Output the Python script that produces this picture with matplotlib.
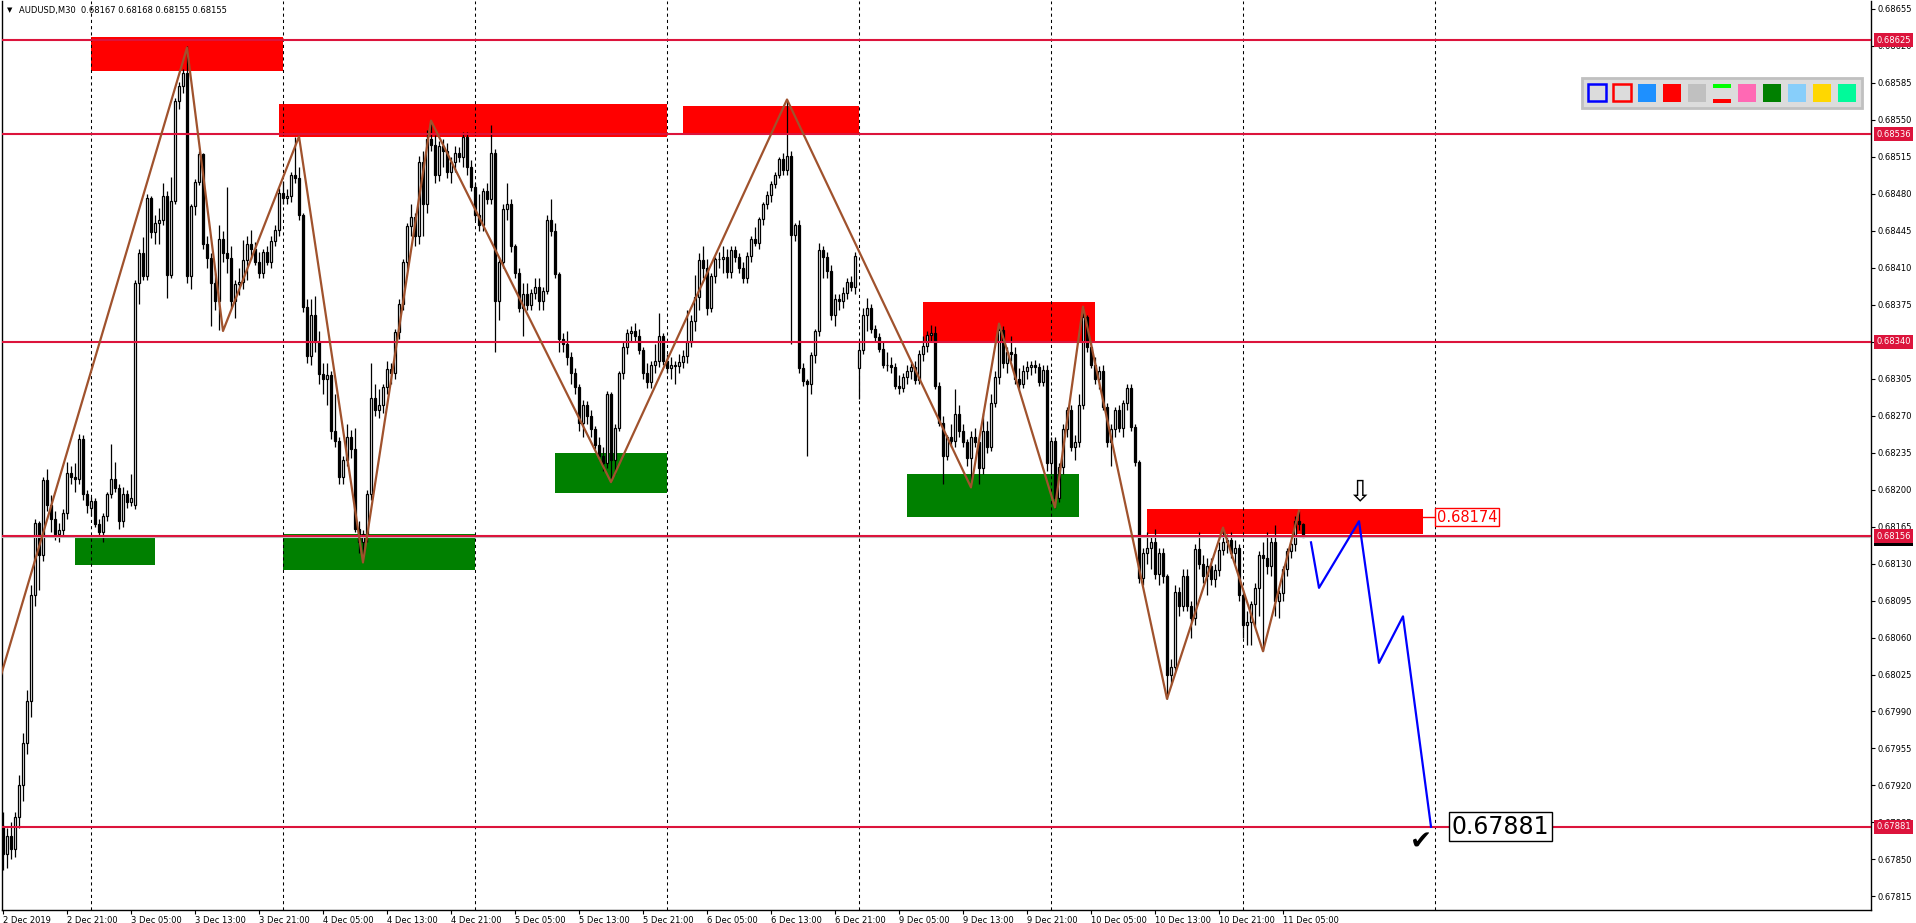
import numpy as np
import matplotlib.pyplot as plt
from matplotlib.patches import Rectangle

plt.rcParams['font.family'] = ['DejaVu Sans']

# prices are kept in points above 0.68000 (1 point = 0.00001)
BASE = 0.68
PT = 1e-5

opens = [
    -118, -145, -128, -140, -110, -80, -40, 0, 100, 168,
    138, 209, 185, 172, 158, 162, 178, 216, 212, 210,
    248, 196, 183, 189, 167, 160, 175, 196, 210, 201,
    170, 196, 188, 185, 395, 424, 402, 476, 444, 452,
    455, 478, 403, 473, 568, 582, 594, 402, 468, 491,
    517, 432, 419, 395, 378, 437, 424, 419, 378, 394,
    396, 417, 432, 428, 415, 405, 425, 415, 435, 446,
    481, 476, 478, 498, 495, 460, 373, 326, 365, 340,
    309, 305, 308, 255, 246, 212, 228, 250, 238, 163,
    150, 158, 196, 287, 275, 280, 297, 314, 310, 349,
    376, 415, 449, 458, 440, 510, 470, 532, 526, 498,
    525, 520, 500, 510, 518, 515, 534, 505, 486, 460,
    450, 482, 475, 518, 378, 415, 465, 470, 430, 405,
    372, 385, 375, 386, 392, 378, 388, 455, 445, 404,
    342, 338, 325, 310, 297, 263, 280, 270, 257, 242,
    232, 225, 290, 228, 258, 310, 335, 348, 350, 345,
    332, 310, 302, 318, 322, 345, 322, 315, 318, 317,
    321, 326, 340, 359, 382, 417, 410, 372, 402, 418,
    418, 420, 406, 427, 420, 410, 400, 421, 437, 433,
    456, 470, 479, 489, 498, 513, 502, 516, 441, 450,
    315, 303, 300, 327, 350, 427, 420, 407, 365, 380,
    378, 386, 396, 392, 315, 332, 365, 372, 352, 344,
    333, 318, 318, 316, 298, 296, 306, 312, 316, 304,
    328, 336, 346, 348, 298, 263, 232, 250, 246, 271,
    255, 245, 230, 250, 245, 220, 255, 240, 282, 306,
    351, 320, 330, 328, 305, 300, 312, 316, 318, 316,
    302, 313, 225, 246, 192, 221, 257, 275, 240, 245,
    280, 363, 335, 318, 305, 312, 278, 245, 257, 275,
    258, 282, 296, 259, 226, 116, 140, 145, 150, 120,
    140, 118, 25, 32, 103, 90, 118, 90, 78, 144,
    130, 118, 128, 115, 124, 143, 150, 152, 140, 145,
    100, 72, 75, 92, 107, 138, 135, 128, 150, 95,
    102, 125, 142, 148, 170, 167,
]
highs = [
    -105, -120, -115, -105, -70, -30, 10, 110, 172, 170,
    212, 219, 195, 180, 168, 182, 226, 222, 225, 253,
    252, 200, 193, 192, 172, 178, 198, 243, 226, 205,
    202, 200, 215, 398, 428, 439, 480, 478, 460, 466,
    490, 482, 496, 570, 586, 598, 620, 470, 494, 520,
    518, 440, 424, 405, 450, 445, 486, 430, 398, 410,
    436, 440, 446, 434, 425, 428, 430, 440, 450, 485,
    492, 484, 500, 534, 505, 462, 380, 380, 383, 350,
    320, 320, 312, 290, 250, 232, 262, 256, 258, 170,
    162, 200, 320, 300, 295, 300, 322, 320, 352, 380,
    418, 452, 470, 462, 516, 520, 540, 549, 535, 530,
    532, 528, 515, 525, 524, 538, 538, 512, 490, 480,
    485, 490, 545, 522, 420, 470, 490, 475, 432, 410,
    395, 395, 390, 400, 400, 392, 460, 475, 452, 406,
    348, 350, 330, 315, 300, 285, 284, 275, 260, 250,
    240, 293, 292, 262, 312, 340, 352, 355, 358, 352,
    335, 320, 322, 338, 367, 348, 328, 325, 322, 328,
    332, 370, 365, 403, 424, 430, 418, 405, 420, 425,
    430, 428, 430, 430, 424, 415, 425, 440, 448, 458,
    472, 482, 492, 500, 515, 518, 569, 520, 452, 455,
    320, 305, 330, 352, 433, 430, 425, 412, 385, 385,
    392, 400, 402, 425, 340, 372, 381, 376, 356, 348,
    340, 330, 325, 320, 308, 310, 318, 320, 322, 332,
    345, 350, 356, 355, 302, 270, 252, 262, 295, 280,
    262, 248, 255, 258, 250, 272, 265, 290, 312, 357,
    355, 335, 345, 335, 315, 318, 322, 322, 323, 320,
    318, 318, 250, 250, 225, 262, 278, 280, 252, 290,
    373, 365, 340, 325, 317, 318, 282, 262, 278, 280,
    285, 300, 300, 262, 228, 145, 160, 155, 163, 145,
    145, 120, 40, 110, 108, 125, 125, 95, 148, 160,
    138, 135, 135, 130, 150, 164, 158, 160, 152, 148,
    105, 85, 95, 112, 142, 150, 160, 155, 166, 105,
    128, 145, 152, 175, 180, 168,
]
lows = [
    -160, -158, -150, -148, -120, -95, -50, -15, 90, 105,
    132, 180, 160, 152, 150, 156, 172, 205, 198, 205,
    190, 178, 175, 165, 155, 150, 170, 192, 198, 163,
    165, 183, 184, 182, 376, 398, 398, 438, 432, 432,
    450, 381, 400, 470, 560, 575, 395, 390, 460, 488,
    428, 410, 355, 370, 351, 415, 405, 372, 362, 384,
    390, 398, 418, 412, 400, 400, 412, 410, 430, 440,
    470, 470, 472, 490, 455, 368, 320, 318, 330, 300,
    290, 280, 248, 240, 205, 205, 222, 230, 160, 140,
    131, 150, 190, 270, 268, 272, 290, 300, 305, 342,
    370, 408, 440, 430, 432, 440, 462, 520, 490, 492,
    505, 495, 490, 500, 510, 505, 498, 482, 455, 445,
    445, 470, 470, 330, 360, 410, 455, 425, 400, 368,
    345, 370, 370, 380, 370, 370, 385, 440, 400, 330,
    330, 318, 300, 290, 255, 250, 262, 250, 238, 228,
    218, 220, 207, 215, 255, 305, 328, 340, 340, 328,
    305, 296, 296, 310, 316, 318, 310, 305, 300, 310,
    315, 320, 335, 350, 370, 400, 365, 368, 395, 410,
    405, 400, 400, 415, 405, 395, 395, 415, 430, 428,
    450, 465, 472, 485, 495, 498, 498, 338, 435, 310,
    298, 232, 290, 320, 345, 400, 400, 360, 355, 370,
    372, 380, 388, 385, 286, 328, 350, 348, 340, 330,
    315, 312, 310, 295, 290, 292, 300, 305, 300, 300,
    322, 330, 340, 295, 260, 205, 228, 240, 240, 250,
    240, 222, 202, 240, 205, 215, 235, 236, 278, 300,
    315, 310, 322, 300, 295, 296, 305, 308, 310, 298,
    298, 218, 215, 183, 188, 215, 250, 236, 228, 240,
    276, 330, 315, 300, 295, 275, 240, 222, 250, 254,
    250, 275, 255, 222, 112, 110, 130, 125, 115, 110,
    112, 2, 15, 28, 80, 85, 85, 60, 72, 125,
    112, 100, 110, 108, 118, 138, 140, 135, 130, 95,
    60, 53, 53, 70, 80, 47, 120, 118, 80, 78,
    95, 118, 135, 142, 162, 155,
]
closes = [
    -145, -128, -140, -110, -80, -40, 0, 100, 168, 138,
    209, 185, 172, 158, 162, 178, 216, 212, 210, 248,
    196, 185, 189, 167, 160, 175, 196, 210, 201, 170,
    196, 188, 192, 395, 424, 402, 476, 444, 452, 455,
    478, 403, 473, 568, 582, 594, 402, 468, 491, 517,
    432, 419, 395, 378, 437, 424, 419, 378, 394, 396,
    417, 432, 428, 415, 405, 425, 415, 435, 446, 481,
    476, 478, 498, 495, 460, 373, 326, 365, 340, 309,
    305, 308, 255, 246, 212, 228, 250, 238, 163, 150,
    158, 196, 287, 275, 280, 297, 314, 310, 349, 376,
    415, 449, 458, 440, 510, 470, 532, 526, 498, 525,
    520, 500, 510, 518, 515, 534, 505, 486, 460, 450,
    482, 475, 518, 378, 415, 465, 470, 430, 405, 372,
    385, 375, 386, 392, 378, 388, 455, 445, 404, 342,
    338, 325, 310, 297, 263, 280, 270, 257, 242, 232,
    225, 290, 228, 258, 310, 335, 348, 350, 345, 332,
    310, 302, 318, 322, 345, 322, 315, 318, 317, 321,
    326, 340, 359, 382, 417, 410, 372, 402, 418, 418,
    420, 406, 427, 420, 410, 400, 421, 437, 433, 456,
    470, 479, 489, 498, 513, 502, 516, 441, 450, 315,
    303, 300, 327, 350, 427, 420, 407, 365, 380, 378,
    386, 396, 392, 421, 332, 365, 372, 352, 344, 333,
    318, 318, 316, 298, 296, 306, 312, 316, 304, 328,
    336, 346, 348, 298, 263, 232, 250, 246, 271, 255,
    245, 230, 250, 245, 220, 255, 240, 282, 306, 351,
    320, 330, 328, 305, 300, 312, 316, 318, 316, 302,
    313, 225, 246, 192, 221, 257, 275, 240, 245, 280,
    363, 335, 318, 305, 312, 278, 245, 257, 275, 258,
    282, 296, 259, 226, 116, 140, 145, 150, 120, 140,
    118, 25, 32, 103, 90, 118, 90, 78, 144, 130,
    118, 128, 115, 124, 143, 150, 152, 140, 145, 100,
    72, 75, 92, 107, 138, 135, 128, 150, 95, 102,
    125, 142, 148, 170, 167, 155,
]

x_labels = ["2 Dec 2019", "2 Dec 21:00", "3 Dec 05:00", "3 Dec 13:00", "3 Dec 21:00",
            "4 Dec 05:00", "4 Dec 13:00", "4 Dec 21:00", "5 Dec 05:00", "5 Dec 13:00",
            "5 Dec 21:00", "6 Dec 05:00", "6 Dec 13:00", "6 Dec 21:00", "9 Dec 05:00",
            "9 Dec 13:00", "9 Dec 21:00", "10 Dec 05:00", "10 Dec 13:00", "10 Dec 21:00",
            "11 Dec 05:00"]
day_breaks = [22, 70, 118, 166, 214, 262, 310, 358]
levels = [625, 536, 340, 156, -119]
bid = 155

# zones: first bar, last bar, low, high
red_zones = [(22, 70, 596, 628), (69, 166, 534, 565), (170, 214, 536, 563),
             (230, 273, 341, 377), (286, 355, 158, 182)]
green_zones = [(18, 38, 129, 154), (70, 118, 124, 158), (138, 166, 197, 235),
               (226, 269, 174, 215)]

zz_bars = [-1, 46, 55, 74, 90, 107, 152, 196, 242, 249, 263, 270, 291, 305, 315, 324]
zz_vals = [18, 618, 350, 534, 131, 549, 207, 569, 202, 357, 183, 373, 2, 164, 47, 180]
fc_bars = [327, 329, 339, 344, 350, 357]
fc_vals = [150, 107, 170, 36, 80, -119]


def pr(v):
    return BASE + np.asarray(v) * PT


W, H = 1916, 923
fig = plt.figure(figsize=(W / 100, H / 100), dpi=100)
ax = fig.add_axes([2 / W, 1 - 910 / H, 1869 / W, 909 / H])
ax.set_xlim(-0.25, 467.0)
ax.set_ylim(pr(-197.8), pr(662.2))

for b0, b1, lo, hi in red_zones:
    ax.add_patch(Rectangle((b0, pr(lo)), b1 - b0, pr(hi) - pr(lo), color='#FF0000', lw=0, zorder=1))
for b0, b1, lo, hi in green_zones:
    ax.add_patch(Rectangle((b0, pr(lo)), b1 - b0, pr(hi) - pr(lo), color='#008000', lw=0, zorder=1))

for b in day_breaks:
    ax.axvline(b, color='black', lw=0.75, ls=(0, (3, 3)), zorder=1.5)

# candles
xs = np.arange(len(closes))
o, h, l, c = pr(opens), pr(highs), pr(lows), pr(closes)
up = c >= o
ax.vlines(xs, l, h, color='black', lw=0.9, zorder=3)
ax.bar(xs[up], c[up] - o[up], bottom=o[up], width=0.6, color='white',
       edgecolor='black', lw=0.9, zorder=3.1)
ax.bar(xs[~up], o[~up] - c[~up], bottom=c[~up], width=0.6, color='black',
       edgecolor='black', lw=0.9, zorder=3.1)

ax.axhline(pr(bid), color='#C0C0C0', lw=0.8, zorder=3.8)
for v in levels:
    ax.axhline(pr(v), color='#DC143C', lw=1.5, zorder=4)

ax.plot(zz_bars, pr(zz_vals), color='#A0522D', lw=1.6, zorder=5)
ax.plot(fc_bars, pr(fc_vals), color='#0000FF', lw=1.6, zorder=5)

# objects
ax.plot([355, 357.8], [pr(174)] * 2, color='#FF0000', lw=1, zorder=5)
ax.text(358.4, pr(174), "0.68174", color='#FF0000', fontsize=10.5, ha='left', va='center',
        zorder=6, bbox=dict(boxstyle='square,pad=0.12', fc='white', ec='#FF0000', lw=1))
ax.text(339, pr(197), "\u21e9", fontsize=21, ha='center', va='center', zorder=6)
ax.text(354.5, pr(-134), "\u2714", fontsize=19, ha='center', va='center', zorder=6)
ax.text(362.2, pr(-119), "0.67881", color='black', fontsize=17, ha='left', va='center',
        zorder=6, bbox=dict(boxstyle='square,pad=0.1', fc='white', ec='black', lw=1))

# axes, ticks
for s in ax.spines.values():
    s.set_color('black')
    s.set_linewidth(1)
ax.spines['top'].set_visible(False)
yt = [655 - 35 * k for k in range(25)]
ax.yaxis.tick_right()
ax.set_yticks(pr(yt))
ax.set_yticklabels([f"{v:.5f}" for v in pr(yt)])
ax.set_xticks(np.arange(0, 16 * len(x_labels), 16))
ax.set_xticklabels(x_labels, ha='left')
ax.tick_params(axis='y', length=3, width=0.8, pad=1.5, labelsize=6, colors='black')
ax.tick_params(axis='x', length=3, width=0.8, pad=1, labelsize=6, colors='black')

ytr = ax.get_yaxis_transform()
ax.text(1.0027, pr(bid - 2), "0.68155", transform=ytr, fontsize=6, color='white', ha='left',
        va='center', clip_on=False, zorder=7,
        bbox=dict(boxstyle='square,pad=0.3', fc='black', ec='none'))
for v in levels:
    ax.text(1.0027, pr(v), f"{pr(v):.5f}", transform=ytr, fontsize=6, color='white', ha='left',
            va='center', clip_on=False, zorder=8,
            bbox=dict(boxstyle='square,pad=0.3', fc='#DC143C', ec='none'))

# header
fig.text(7 / W, 1 - 10 / H, "\u25bc", fontsize=5, va='center', ha='left')
fig.text(19 / W, 1 - 10 / H, "AUDUSD,M30  0.68167 0.68168 0.68155 0.68155", fontsize=6,
         va='center', ha='left')


def box_px(x0, y0, x1, y1, **kw):
    fig.add_artist(Rectangle((x0 / W, 1 - y1 / H), (x1 - x0) / W, (y1 - y0) / H,
                             transform=fig.transFigure, **kw))


# colour toolbar
box_px(1582, 78, 1862, 108, fc='#DCDCDC', ec='#C0C0C0', lw=2)
box_px(1588, 84, 1606, 101, fc='#DCDCDC', ec='#0000FF', lw=1.8)
box_px(1613, 84, 1631, 101, fc='#DCDCDC', ec='#FF0000', lw=1.8)
toolbar_cols = ['#1E90FF', '#FF0000', '#C0C0C0', None, '#FF69B4', '#008000',
                '#87CEFA', '#FFD700', '#00FA9A']
for i, col in enumerate(toolbar_cols):
    x0 = 1638 + 25 * i
    if col is None:
        box_px(x0, 84, x0 + 18, 88, fc='#00FF00', lw=0)
        box_px(x0, 99, x0 + 18, 103, fc='#FF0000', lw=0)
    else:
        box_px(x0, 84, x0 + 18, 102, fc=col, lw=0)

fig.savefig("out.png", dpi=100, facecolor='white')
